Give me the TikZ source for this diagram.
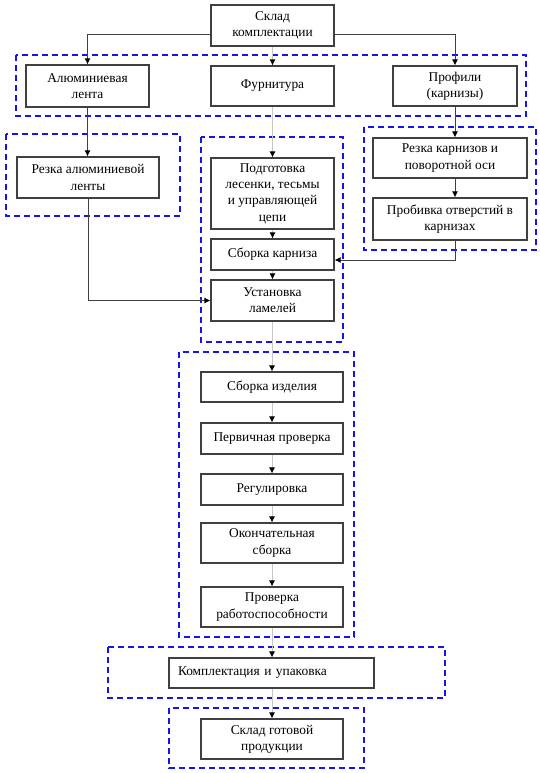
\documentclass[tikz,border=0pt]{standalone}
\usepackage{fontspec}
\setmainfont{Liberation Serif}
\usetikzlibrary{arrows.meta}
\begin{document}
\begin{tikzpicture}[x=1pt,y=-1pt,
  box/.style={draw=black!75, line width=1.1pt, fill=white, align=center, inner sep=1pt,
    font=\fontsize{13.4}{16.3}\selectfont},
  grp/.style={draw={rgb,255:red,20;green,20;blue,235}, line width=1.8pt, dash pattern=on 6pt off 4pt},
  lite/.style={draw=black!22, line width=0.9pt, -{Latex[length=6pt,width=6pt,color=black]}},
  dark/.style={draw=black!75, line width=1pt, -{Latex[length=6pt,width=6pt,color=black]}}]
\useasboundingbox (0,0) rectangle (539,773);
% groups
\draw[grp] (16,55) rectangle (526,116);
\draw[grp] (6,134) rectangle (180,216);
\draw[grp] (201,137) rectangle (343,342);
\draw[grp] (364,127) rectangle (536,250);
\draw[grp] (179,352) rectangle (354,637);
\draw[grp] (108,647) rectangle (445,698);
\draw[grp] (169,708) rectangle (364,768);
% boxes
\node[box, minimum width=123, minimum height=41] (top) at (272.5,25.5) {Склад\\комплектации};
\node[box, minimum width=123, minimum height=42] (alum) at (87.5,86) {Алюминиевая\\лента};
\node[box, minimum width=123, minimum height=40] (furn) at (272.5,86) {Фурнитура};
\node[box, minimum width=124, minimum height=40] (prof) at (455,86) {Профили\\(карнизы)};
\node[box, minimum width=142, minimum height=41] (rezal) at (88,177.5) {Резка алюминиевой\\ленты};
\node[box, minimum width=123, minimum height=71] (podg) at (272.5,193.5) {Подготовка\\лесенки, тесьмы\\и управляющей\\цепи};
\node[box, minimum width=123, minimum height=31] (sbk) at (272.5,254.5) {Сборка карниза};
\node[box, minimum width=123, minimum height=41] (ust) at (272.5,300.5) {Установка\\ламелей};
\node[box, minimum width=154, minimum height=40] (rezk) at (450,158) {Резка карнизов и\\поворотной оси};
\node[box, minimum width=154, minimum height=42] (prob) at (450,219) {Пробивка отверстий в\\карнизах};
\node[box, minimum width=142, minimum height=30] (sbi) at (272,387) {Сборка изделия};
\node[box, minimum width=142, minimum height=31] (perv) at (272,438.5) {Первичная проверка};
\node[box, minimum width=142, minimum height=31] (reg) at (272,489.5) {Регулировка};
\node[box, minimum width=142, minimum height=40] (okon) at (272,543) {Окончательная\\сборка};
\node[box, minimum width=142, minimum height=40] (prov) at (272,607) {Проверка\\работоспособности};
\node[box, minimum width=205, minimum height=30, text width=187, inner xsep=9, align=left] (kompl) at (271.5,673) {Комплектация и упаковка};
\node[box, minimum width=142, minimum height=40] (sklad) at (272,739) {Склад готовой\\продукции};
% connectors
\draw[dark] ([yshift=-9.5pt]top.west) -| (alum.north);
\draw[dark] ([yshift=-9.5pt]top.east) -| (prof.north);
\draw[lite] (top) -- (furn);
\draw[dark] (alum.south) -- (alum.south |- rezal.north);
\draw[lite] (furn) -- (podg);
\draw[lite] (podg) -- (sbk);
\draw[lite] (sbk) -- (ust);
\draw[dark] (prof.south) -- (prof.south |- rezk.north);
\draw[dark] (rezk.south -| prof.south) -- (prob.north -| prof.south);
\coordinate (c1) at (455,260);
\draw[dark] (prob.south -| prof.south) -- (c1) -- (c1 -| sbk.east);
\draw[dark] (rezal.south) |- (ust.west);
\draw[lite] (ust.south -| sbi.north) -- (sbi.north);
\draw[lite] (sbi) -- (perv);
\draw[lite] (perv) -- (reg);
\draw[lite] (reg) -- (okon);
\draw[lite] (okon) -- (prov);
\draw[lite] (prov.south) -- (prov.south |- kompl.north);
\draw[lite] (kompl.south -| sklad.north) -- (sklad.north);
\end{tikzpicture}
\end{document}
